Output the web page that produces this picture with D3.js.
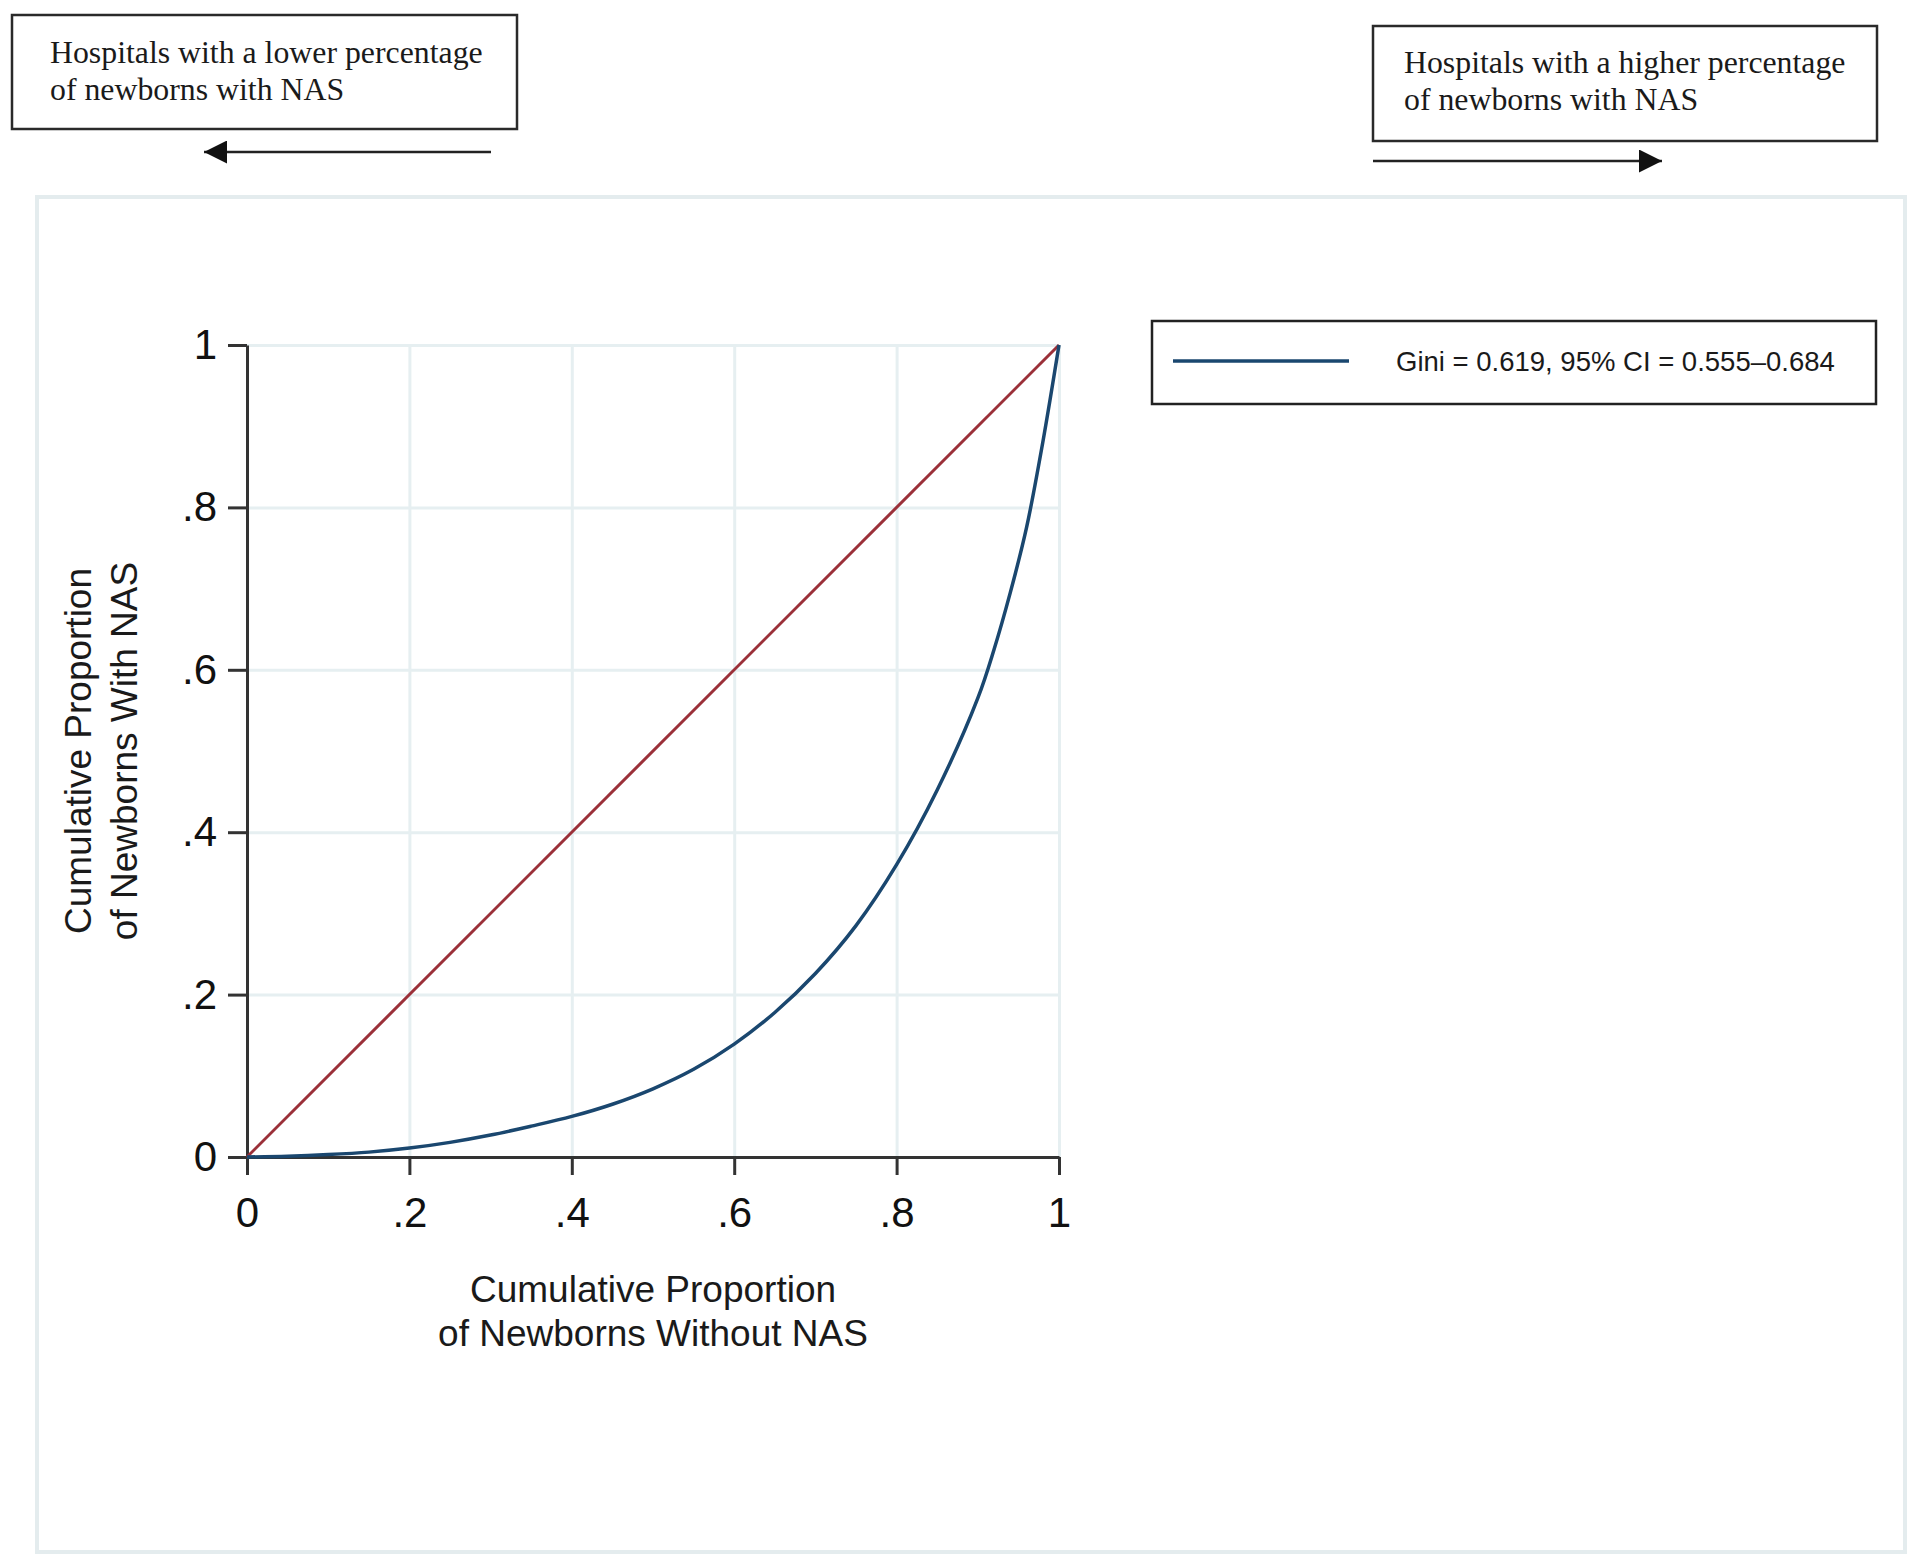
<!DOCTYPE html>
<html lang="en">
<head>
    <meta charset="UTF-8">
    <title>Lorenz curve NAS</title>
    <script src="https://cdn.jsdelivr.net/npm/d3@7"></script>
    <style>
        body {
            margin: 0;
            background-color: white;
        }

        .tick text {
            font-family: "Liberation Sans", Arial, sans-serif;
            font-size: 42px;
            fill: #111;
        }

        .axis path, .axis line {
            stroke: #333;
            stroke-width: 3;
        }

        .grid line {
            stroke: #e6eff1;
            stroke-width: 3;
        }

        .grid path {
            display: none;
        }

        .title {
            font-family: "Liberation Sans", Arial, sans-serif;
            font-size: 37px;
            fill: #1a1a1a;
        }

        .note {
            font-family: "Liberation Serif", "Times New Roman", serif;
            font-size: 31.8px;
            fill: #1a1a1a;
        }
    </style>
</head>
<body>
    <script>
        // cumulative shares
        const cumWithout = [0, 0.05, 0.1, 0.15, 0.2, 0.25, 0.3, 0.35, 0.4, 0.45, 0.5, 0.55, 0.6, 0.65, 0.7, 0.75, 0.8, 0.85, 0.9, 0.92, 0.94, 0.96, 0.98, 1];
        const cumWith    = [0, 0.001, 0.003, 0.006, 0.011, 0.018, 0.027, 0.038, 0.050, 0.065, 0.084, 0.108, 0.139, 0.178, 0.226, 0.285, 0.360, 0.452, 0.565, 0.625, 0.695, 0.775, 0.880, 1];
        const equalityX = [0, 1];
        const equalityY = [0, 1];
        const tickValues = [0, 0.2, 0.4, 0.6, 0.8, 1];
        const tickLabels = ['0', '.2', '.4', '.6', '.8', '1'];
        const legendLabel = 'Gini = 0.619, 95% CI = 0.555\u20130.684';
        const xTitle = ['Cumulative Proportion', 'of Newborns Without NAS'];
        const yTitle = ['Cumulative Proportion', 'of Newborns With NAS'];
        const lowNote = ['Hospitals with a lower percentage', 'of newborns with NAS'];
        const highNote = ['Hospitals with a higher percentage', 'of newborns with NAS'];

        const w = 1920;
        const h = 1565;
        const pLeft = 247, pRight = 1059, pTop = 345, pBottom = 1157;

        const svg = d3.select('body')
                    .append('svg')
                    .attr('width', w)
                    .attr('height', h);

        // graph region frame
        svg.append('rect')
            .attr('x', 37).attr('y', 197)
            .attr('width', 1868).attr('height', 1355)
            .attr('fill', 'white')
            .attr('stroke', '#e4ecee')
            .attr('stroke-width', 4);

        const xScale = d3.scaleLinear().domain([0, 1]).range([pLeft, pRight]);
        const yScale = d3.scaleLinear().domain([0, 1]).range([pBottom, pTop]);

        // grid
        svg.append('g')
            .attr('class', 'grid')
            .attr('transform', `translate(0, ${pBottom})`)
            .call(d3.axisBottom(xScale).tickValues(tickValues.slice(1)).tickSize(-(pBottom - pTop)).tickFormat(''));
        svg.append('g')
            .attr('class', 'grid')
            .attr('transform', `translate(${pLeft}, 0)`)
            .call(d3.axisLeft(yScale).tickValues(tickValues.slice(1)).tickSize(-(pRight - pLeft)).tickFormat(''));

        const fmt = (d, i) => tickLabels[i];

        svg.append('g')
            .attr('class', 'axis')
            .attr('transform', `translate(0, ${pBottom})`)
            .call(d3.axisBottom(xScale).tickValues(tickValues).tickSize(18).tickPadding(22).tickSizeOuter(0).tickFormat(fmt));

        svg.append('g')
            .attr('class', 'axis')
            .attr('transform', `translate(${pLeft}, 0)`)
            .call(d3.axisLeft(yScale).tickValues(tickValues).tickSize(19).tickPadding(11).tickSizeOuter(0).tickFormat(fmt));

        const line = d3.line()
            .x(d => xScale(d[0]))
            .y(d => yScale(d[1]));

        svg.append('path')
            .datum(equalityX.map((x, i) => [x, equalityY[i]]))
            .attr('d', line)
            .attr('fill', 'none')
            .attr('stroke', '#9b3039')
            .attr('stroke-width', 3);

        svg.append('path')
            .datum(cumWithout.map((x, i) => [x, cumWith[i]]))
            .attr('d', line.curve(d3.curveCatmullRom.alpha(0.5)))
            .attr('fill', 'none')
            .attr('stroke', '#1a476f')
            .attr('stroke-width', 3.5);

        // axis titles
        xTitle.forEach((t, i) => {
            svg.append('text')
                .attr('class', 'title')
                .attr('x', (pLeft + pRight) / 2)
                .attr('y', 1302 + i * 44)
                .attr('text-anchor', 'middle')
                .text(t);
        });
        yTitle.forEach((t, i) => {
            svg.append('text')
                .attr('class', 'title')
                .attr('transform', `translate(${91 + i * 46}, ${(pTop + pBottom) / 2}) rotate(-90)`)
                .attr('text-anchor', 'middle')
                .text(t);
        });

        // legend
        svg.append('rect')
            .attr('x', 1152).attr('y', 321)
            .attr('width', 724).attr('height', 83)
            .attr('fill', 'white')
            .attr('stroke', '#222')
            .attr('stroke-width', 2.5);
        svg.append('line')
            .attr('x1', 1173).attr('x2', 1349)
            .attr('y1', 361).attr('y2', 361)
            .attr('stroke', '#1a476f')
            .attr('stroke-width', 3.5);
        svg.append('text')
            .attr('x', 1396).attr('y', 371)
            .style('font-family', '"Liberation Sans", Arial, sans-serif')
            .style('font-size', '27.5px')
            .style('fill', '#1a1a1a')
            .text(legendLabel);

        // arrow notes on top
        const defs = svg.append('defs');
        defs.append('marker')
            .attr('id', 'head')
            .attr('viewBox', '0 0 10 10')
            .attr('refX', 10).attr('refY', 5)
            .attr('markerUnits', 'userSpaceOnUse')
            .attr('markerWidth', 24).attr('markerHeight', 23)
            .attr('orient', 'auto')
            .append('path')
            .attr('d', 'M0,0 L10,5 L0,10 Z')
            .attr('fill', '#111');

        const notes = [
            {lines: lowNote, bx: 12, by: 15, bw: 505, bh: 114, tx: 50, ty: 63, ax1: 491, ax2: 204, ay: 152},
            {lines: highNote, bx: 1373, by: 26, bw: 504, bh: 115, tx: 1404, ty: 73, ax1: 1373, ax2: 1662, ay: 161}
        ];

        notes.forEach(n => {
            svg.append('rect')
                .attr('x', n.bx).attr('y', n.by)
                .attr('width', n.bw).attr('height', n.bh)
                .attr('fill', 'white')
                .attr('stroke', '#2a2a2a')
                .attr('stroke-width', 2.5);
            n.lines.forEach((t, i) => {
                svg.append('text')
                    .attr('class', 'note')
                    .attr('x', n.tx)
                    .attr('y', n.ty + i * 37)
                    .text(t);
            });
            svg.append('line')
                .attr('x1', n.ax1).attr('x2', n.ax2)
                .attr('y1', n.ay).attr('y2', n.ay)
                .attr('stroke', '#222')
                .attr('stroke-width', 2.5)
                .attr('marker-end', 'url(#head)');
        });
    </script>
</body>
</html>
